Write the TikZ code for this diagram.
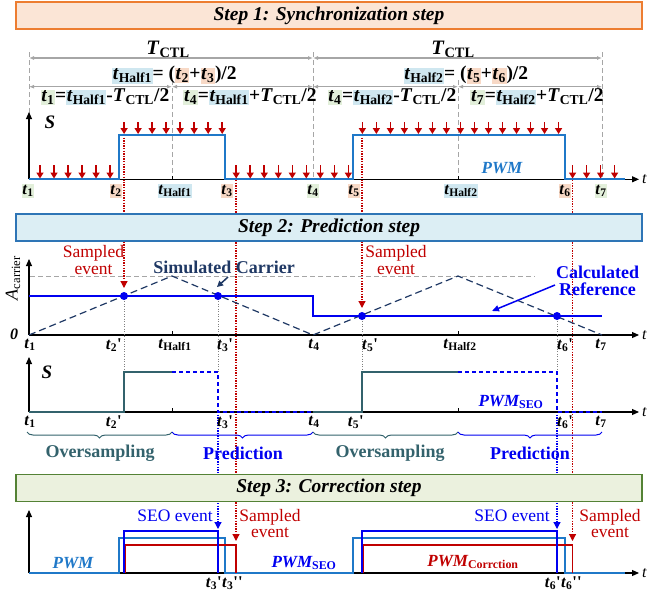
\documentclass[tikz,border=0pt]{standalone}
\usepackage{fontspec}
\setmainfont{Liberation Serif}
\usetikzlibrary{arrows.meta,decorations.pathreplacing}
\definecolor{orB}{HTML}{ED7D31}
\definecolor{orF}{HTML}{FBE5D6}
\definecolor{blB}{HTML}{2E75B6}
\definecolor{blF}{HTML}{DCEEF4}
\definecolor{grB}{HTML}{548235}
\definecolor{grF}{HTML}{EBF1DE}
\definecolor{hlg}{HTML}{E2EFDA}
\definecolor{hlo}{HTML}{F8D9C6}
\definecolor{hlb}{HTML}{CFE7F0}
\definecolor{pwmc}{HTML}{1F78C8}
\definecolor{redc}{HTML}{C00000}
\definecolor{navyc}{HTML}{1F3864}
\definecolor{tealc}{HTML}{33626C}
\definecolor{bluc}{HTML}{0000F0}
\definecolor{grayc}{HTML}{A6A6A6}
\setlength{\fboxsep}{0.6pt}
\newcommand{\tv}[1]{\textbf{\textit{t}}\textsubscript{\textbf{#1}}}
\newcommand{\Tc}{\textbf{\textit{T}}\textsubscript{\textbf{CTL}}}
\newcommand{\hg}[1]{\colorbox{hlg}{#1}}
\newcommand{\ho}[1]{\colorbox{hlo}{#1}}
\newcommand{\hb}[1]{\colorbox{hlb}{#1}}
\newcommand{\pr}{\textbf{\textquotesingle}}
\newcommand{\sbu}[1]{\textsubscript{\textup{#1}}}
\begin{document}
\begin{tikzpicture}[x=1pt,y=-1pt,
  tl/.style={inner sep=0pt, font=\fontsize{16.5}{18}\selectfont},
  fm/.style={inner sep=0pt, font=\fontsize{19.5}{21}\selectfont\bfseries},
  tcl/.style={inner sep=0pt, font=\fontsize{20.5}{22}\selectfont\bfseries},
  axisarr/.style={black, line width=1.1pt, -{Triangle[length=7pt,width=6pt]}},
  gdash/.style={grayc, line width=0.8pt, dash pattern=on 5pt off 3pt},
  dimarr/.style={grayc, line width=1.1pt, {Latex[length=5pt,width=4pt]}-{Latex[length=5pt,width=4pt]}},
  samp/.style={redc, line width=1.5pt, -{Triangle[length=6pt,width=7pt]}},
  rdot/.style={redc, line width=1.2pt, dash pattern=on 1.3pt off 1.3pt},
  bdot/.style={bluc, line width=1.2pt, dash pattern=on 1.3pt off 1.3pt},
  gdot/.style={gray, line width=0.7pt, dash pattern=on 1pt off 1.5pt},
  bannertxt/.style={minimum width=626pt, minimum height=27pt, line width=1.4pt, inner sep=0pt,
     font=\fontsize{19.5}{21}\selectfont\bfseries\itshape},
  tlab/.style={inner sep=0pt, font=\fontsize{16}{18}\selectfont\itshape, anchor=west},
  evt/.style={inner sep=0pt, align=center, font=\fontsize{17.5}{16.5}\selectfont},
  bld/.style={inner sep=0pt, align=center, font=\fontsize{18}{16.5}\selectfont\bfseries},
  pwml/.style={inner sep=0pt, font=\fontsize{17}{18}\selectfont\bfseries\itshape},
  tick/.style={black, line width=0.9pt}
]
\useasboundingbox (0,0) rectangle (660,595);

% ---------------- Step 1 ----------------
\draw[gdash] (29,52) -- (29,179);
\draw[gdash] (313,52) -- (313,179);
\draw[gdash] (602,52) -- (602,179);
\draw[gdash] (172,80) -- (172,179);
\draw[gdash] (458,80) -- (458,179);
\draw[dimarr] (29,58) -- (313,58);
\draw[dimarr] (313,58) -- (602,58);
\draw[dimarr] (29,86.7) -- (172,86.7);
\draw[dimarr] (172,86.7) -- (313,86.7);
\draw[dimarr] (313,86.7) -- (458,86.7);
\draw[dimarr] (458,86.7) -- (602,86.7);

\node[tcl] (T1) at (168,49) {\Tc};
\node[tcl] (T2) at (453,49) {\Tc};
\node[fm] (fh1) at (174.5,75) {\hb{\tv{Half1}}= (\ho{\tv{2}}+\ho{\tv{3}})/2};
\node[fm] (fh2) at (466,75) {\hb{\tv{Half2}}= (\ho{\tv{5}}+\ho{\tv{6}})/2};
\node[fm] (f1) at (105,97) {\hg{\tv{1}}=\hb{\tv{Half1}}-\Tc/2};
\node[fm] (f4) at (250,97) {\hg{\tv{4}}=\hb{\tv{Half1}}+\Tc/2};
\node[fm] (f4b) at (392,97) {\hg{\tv{4}}=\hb{\tv{Half2}}-\Tc/2};
\node[fm] (f7) at (537,97) {\hg{\tv{7}}=\hb{\tv{Half2}}+\Tc/2};

% red dotted sampling lines
\draw[rdot, -{Triangle[length=7pt,width=7pt]}] (124,135) -- (124,288);
\draw[rdot, -{Triangle[length=7pt,width=7pt]}] (362,135) -- (362,308);
\draw[rdot, -{Triangle[length=7pt,width=7pt]}] (236,180) -- (236,541);
\draw[rdot, -{Triangle[length=7pt,width=7pt]}] (572.5,180) -- (572.5,541);
% blue dotted SEO lines
\draw[bdot, -{Triangle[length=7pt,width=7pt]}] (218,412) -- (218,529);
\draw[bdot, -{Triangle[length=7pt,width=7pt]}] (557,412) -- (557,529);

% banners
\node[bannertxt, draw=orB, fill=orF] (b1) at (329,15.5) {Step 1: Synchronization step};
\node[bannertxt, draw=blB, fill=blF] (b2) at (329,227.5) {Step 2: Prediction step};
\node[bannertxt, draw=grB, fill=grF] (b3) at (329,488) {Step 3: Correction step};

% axes step 1
\draw[axisarr] (29,179.3) -- (29,112);
\draw[axisarr] (29,179.3) -- (639,179.3);
\draw[tick] (172,179.3) -- (172,175.5);
\draw[tick] (458,179.3) -- (458,175.5);
\node[inner sep=0pt, font=\fontsize{19}{20}\selectfont\bfseries\itshape] (S1) at (50,122) {S};
\node[tlab] (ta1) at (642,179.3) {t};
\draw[pwmc, line width=1.8pt] (29,179.3) -- (119,179.3) -- (119,135) -- (225,135) -- (225,179.3)
  -- (353,179.3) -- (353,135) -- (565,135) -- (565,179.3) -- (625,179.3);
\foreach \k in {0,...,41} {
  \pgfmathsetmacro{\xx}{40+14.015*\k}
  \pgfmathtruncatemacro{\hi}{((\xx>119) && (\xx<225)) || ((\xx>353) && (\xx<565))}
  \ifnum\hi=1
    \draw[samp] (\xx,122) -- (\xx,134);
  \else
    \draw[samp] (\xx,165) -- (\xx,178.5);
  \fi
}
\node[pwml, text=pwmc] (pwm1) at (502,168) {PWM};
\node[tl] (l1) at (28,191) {\hg{\tv{1}}};
\node[tl] (l2) at (116,191) {\ho{\tv{2}}};
\node[tl] (lh1) at (175,191) {\hb{\tv{Half1}}};
\node[tl] (l3) at (227,191) {\ho{\tv{3}}};
\node[tl] (l4) at (313,191) {\hg{\tv{4}}};
\node[tl] (l5) at (354,191) {\ho{\tv{5}}};
\node[tl] (lh2) at (461,191) {\hb{\tv{Half2}}};
\node[tl] (l6) at (565,191) {\ho{\tv{6}}};
\node[tl] (l7) at (601,191) {\hg{\tv{7}}};

% ---------------- Step 2: carrier ----------------
\draw[gdash] (30,276) -- (535,276);
\draw[axisarr] (29,335) -- (29,259);
\draw[axisarr] (29,335) -- (639,335);
\draw[tick] (172,335) -- (172,331);
\draw[tick] (458,335) -- (458,331);
\node[tlab] (ta2) at (642,335) {t};
\draw[navyc, line width=1.2pt, dash pattern=on 7pt off 4pt] (29,335) -- (172,276) -- (313,335) -- (458,276) -- (602,335);
\draw[bluc, line width=2pt] (29,296) -- (313,296) -- (313,316) -- (602,316);
\draw[gdot] (124,296) -- (124,372);
\draw[gdot] (218,296) -- (218,372);
\draw[gdot] (362,316) -- (362,372);
\draw[gdot] (557,316) -- (557,372);
\fill[bluc] (124,296) circle (4);
\fill[bluc] (218,296) circle (4);
\fill[bluc] (362,316) circle (4);
\fill[bluc] (557,316) circle (4);
\node[inner sep=0pt, rotate=90, font=\fontsize{18}{18}\selectfont] (Aca) at (13,278) {\textit{A}\textsubscript{carrier}};
\node[inner sep=0pt, font=\fontsize{16}{18}\selectfont\bfseries\itshape] (zero) at (14,334) {0};
\node[evt, text=redc] (se1) at (93.5,260) {Sampled\\event};
\node[evt, text=redc] (se2) at (396,260) {Sampled\\event};
\node[bld, text=navyc] (simc) at (224,267) {Simulated Carrier};
\draw[navyc, line width=1.5pt, -{Triangle[length=6pt,width=6pt]}] (228,277) -- (217,287);
\node[bld, text=bluc] (calc) at (597.5,281) {Calculated\\Reference};
\draw[bluc, line width=1.5pt, -{Triangle[length=7pt,width=6pt]}] (555,285) -- (492,311);

\node[tl] (c1) at (30,345) {\tv{1}};
\node[tl, anchor=east] (c2) at (122,345) {\tv{2}\pr};
\node[tl] (ch1) at (175,345) {\tv{Half1}};
\node[tl, anchor=west] (c3) at (217,345) {\tv{3}\pr};
\node[tl] (c4) at (314,345) {\tv{4}};
\node[tl, anchor=west] (c5) at (362,345) {\tv{5}\pr};
\node[tl] (ch2) at (460,345) {\tv{Half2}};
\node[tl, anchor=west] (c6) at (557,345) {\tv{6}\pr};
\node[tl] (c7) at (601,345) {\tv{7}};

% ---------------- Step 2: PWM_SEO ----------------
\draw[axisarr] (29,412) -- (29,357);
\draw[axisarr] (29,412) -- (639,412);
\draw[tick] (172,412) -- (172,408);
\draw[tick] (458,412) -- (458,408);
\node[tlab] (ta3) at (642,412) {t};
\node[inner sep=0pt, font=\fontsize{19}{20}\selectfont\bfseries\itshape] (S2) at (47,372) {S};
\draw[tealc, line width=1.8pt] (29,412) -- (124,412) -- (124,372) -- (172,372);
\draw[tealc, line width=1.8pt] (313,412) -- (362,412) -- (362,372) -- (458,372);
\draw[bluc, line width=2pt, dash pattern=on 4pt off 3pt] (172,372) -- (218,372) -- (218,412) -- (313,412);
\draw[bluc, line width=2pt, dash pattern=on 4pt off 3pt] (458,372) -- (557,372) -- (557,412) -- (602,412);
\node[pwml, text=bluc] (pwmseo) at (511,402) {PWM\sbu{SEO}};
\node[tl] (d1) at (30,422) {\tv{1}};
\node[tl, anchor=east] (d2) at (122,422) {\tv{2}\pr};
\node[tl, anchor=west] (d3) at (217,422) {\tv{3}\pr};
\node[tl] (d4) at (314,422) {\tv{4}};
\node[tl, anchor=east] (d5) at (364,422) {\tv{5}\pr};
\node[tl, anchor=west] (d6) at (557,422) {\tv{6}\pr};
\node[tl] (d7) at (601,422) {\tv{7}};

\draw[tealc, line width=1pt, decorate, decoration={brace, mirror, amplitude=6pt}] (27,432) -- (172,432);
\draw[bluc, line width=1pt, decorate, decoration={brace, mirror, amplitude=6pt}] (172,432) -- (313,432);
\draw[tealc, line width=1pt, decorate, decoration={brace, mirror, amplitude=6pt}] (313,432) -- (458,432);
\draw[bluc, line width=1pt, decorate, decoration={brace, mirror, amplitude=6pt}] (458,432) -- (602,432);
\node[bld, text=tealc] (ov1) at (100,453) {Oversampling};
\node[bld, text=bluc] (pr1) at (243,453) {Prediction};
\node[bld, text=tealc] (ov2) at (390,453) {Oversampling};
\node[bld, text=bluc] (pr2) at (530,453) {Prediction};

% ---------------- Step 3 ----------------
\draw[axisarr] (29,573) -- (29,510);
\draw[axisarr] (29,573) -- (639,573);
\node[tlab] (ta4) at (642,573) {t};
\draw[pwmc, line width=1.8pt] (29,573) -- (119,573) -- (119,538) -- (225,538) -- (225,573)
  -- (353,573) -- (353,538) -- (565,538) -- (565,573) -- (625,573);
\draw[redc, line width=1.8pt] (125.5,573) -- (125.5,545) -- (236,545) -- (236,573);
\draw[redc, line width=1.8pt] (363.5,573) -- (363.5,545) -- (572.5,545) -- (572.5,573);
\draw[bluc, line width=1.8pt] (124,573) -- (124,531) -- (218,531) -- (218,573);
\draw[bluc, line width=1.8pt] (362,573) -- (362,531) -- (557,531) -- (557,573);
\node[pwml, text=pwmc] (pwm3) at (73,563) {PWM};
\node[pwml, text=bluc] (pwmseo3) at (304,563) {PWM\sbu{SEO}};
\node[pwml, text=redc] (pwmcor) at (473,562) {PWM\sbu{Corrction}};
\node[evt, text=bluc] (seo1) at (175,516) {SEO event};
\node[evt, text=bluc] (seo2) at (512,516) {SEO event};
\node[evt, text=redc] (se3) at (270,523.5) {Sampled\\event};
\node[evt, text=redc] (se4) at (610,523.5) {Sampled\\event};
\node[tl, anchor=east] (e3a) at (222,583) {\tv{3}\pr};
\node[tl, anchor=west] (e3b) at (222,583) {\tv{3}\pr\pr};
\node[tl, anchor=east] (e6a) at (561,583) {\tv{6}\pr};
\node[tl, anchor=west] (e6b) at (561,583) {\tv{6}\pr\pr};
\end{tikzpicture}
\end{document}
